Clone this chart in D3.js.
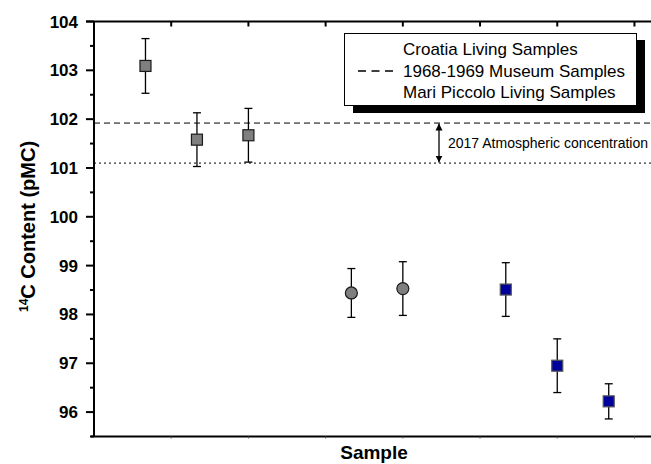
<!DOCTYPE html>
<html>
<head>
<meta charset="utf-8">
<script src="https://cdn.jsdelivr.net/npm/d3@7"></script>
<style>
  body { margin: 0; background: #fff; }
  svg { font-family: "Liberation Sans", Arial, sans-serif; }
</style>
</head>
<body>
<svg id="chart" width="651" height="464"></svg>
<script>
// Data
const croatiaX = [1, 2, 3];
const croatiaY = [103.09, 101.58, 101.67];
const croatiaErr = [0.56, 0.55, 0.55];

const museumX = [5, 6];
const museumY = [98.44, 98.53];
const museumErr = [0.5, 0.55];

const mariX = [8, 9, 10];
const mariY = [98.51, 96.95, 96.22];
const mariErr = [0.55, 0.55, 0.36];

const atmUpper = 101.92;
const atmLower = 101.10;

const yTicks = [96, 97, 98, 99, 100, 101, 102, 103, 104];
const yMinor = [95.5, 96.5, 97.5, 98.5, 99.5, 100.5, 101.5, 102.5, 103.5];
const xTicks = [1.5, 3, 4.5, 6, 7.5, 9, 10.5];

const legendLabels = ["Croatia Living Samples", "1968-1969 Museum Samples", "Mari Piccolo Living Samples"];

// Layout (plot box runs a little past the right edge of the picture)
const svg = d3.select("#chart");
const pLeft = 94, pRight = 660.2, pTop = 21.5, pBottom = 436.5;

const x = d3.scaleLinear().domain([0, 11]).range([pLeft, pRight]);
const y = d3.scaleLinear().domain([95.5, 104]).range([pBottom, pTop]);

// Reference lines (2017 atmosphere)
svg.append("line")
  .attr("x1", pLeft).attr("x2", pRight)
  .attr("y1", y(atmUpper)).attr("y2", y(atmUpper))
  .attr("stroke", "#000").attr("stroke-width", 1)
  .attr("stroke-dasharray", "6,4");
svg.append("line")
  .attr("x1", pLeft).attr("x2", pRight)
  .attr("y1", y(atmLower)).attr("y2", y(atmLower))
  .attr("stroke", "#000").attr("stroke-width", 1)
  .attr("stroke-dasharray", "2,3");

// Double arrow + annotation
const defs = svg.append("defs");
defs.append("marker")
  .attr("id", "ah").attr("viewBox", "0 0 10 10")
  .attr("refX", 10).attr("refY", 5)
  .attr("markerWidth", 7).attr("markerHeight", 10)
  .attr("markerUnits", "userSpaceOnUse")
  .attr("orient", "auto-start-reverse")
  .append("path").attr("d", "M0,0 L10,5 L0,10 Z").attr("fill", "#000");

const arrowX = 439;
svg.append("line")
  .attr("x1", arrowX).attr("x2", arrowX)
  .attr("y1", y(atmUpper) + 0.5).attr("y2", y(atmLower) - 0.5)
  .attr("stroke", "#000").attr("stroke-width", 1.3)
  .attr("marker-start", "url(#ah)").attr("marker-end", "url(#ah)");

svg.append("text")
  .attr("x", 448).attr("y", (y(atmUpper) + y(atmLower)) / 2 + 5)
  .attr("font-size", 14)
  .text("2017 Atmospheric concentration");

// Axes frame
const frame = svg.append("g").attr("stroke", "#000").attr("stroke-width", 2);
frame.append("line").attr("x1", pLeft - 8).attr("x2", pRight + 1).attr("y1", pTop).attr("y2", pTop);
frame.append("line").attr("x1", pLeft - 3).attr("x2", pRight + 1).attr("y1", pBottom).attr("y2", pBottom);
frame.append("line").attr("x1", pLeft).attr("x2", pLeft).attr("y1", pTop).attr("y2", pBottom);
frame.append("line").attr("x1", pRight).attr("x2", pRight).attr("y1", pTop).attr("y2", pBottom);

// Y axis ticks and labels
const yAxis = svg.append("g");
yAxis.selectAll(".maj").data(yTicks).enter().append("line")
  .attr("x1", pLeft - 8).attr("x2", pLeft)
  .attr("y1", d => y(d)).attr("y2", d => y(d))
  .attr("stroke", "#000").attr("stroke-width", 2);
yAxis.selectAll(".min").data(yMinor).enter().append("line")
  .attr("x1", pLeft - 4).attr("x2", pLeft)
  .attr("y1", d => y(d)).attr("y2", d => y(d))
  .attr("stroke", "#000").attr("stroke-width", 2);
yAxis.selectAll("text").data(yTicks).enter().append("text")
  .attr("x", 78).attr("y", d => y(d) + 6)
  .attr("text-anchor", "end")
  .attr("font-size", 17).attr("font-weight", "bold")
  .text(d => d);

// X ticks (top pointing in, bottom tiny)
svg.append("g").selectAll("line").data(xTicks).enter().append("line")
  .attr("x1", d => x(d)).attr("x2", d => x(d))
  .attr("y1", pTop).attr("y2", pTop + 5)
  .attr("stroke", "#000").attr("stroke-width", 2);
svg.append("g").selectAll("line").data(xTicks).enter().append("line")
  .attr("x1", d => x(d)).attr("x2", d => x(d))
  .attr("y1", pBottom).attr("y2", pBottom + 2)
  .attr("stroke", "#555").attr("stroke-width", 1);

// Axis titles
svg.append("text")
  .attr("x", 374).attr("y", 459)
  .attr("text-anchor", "middle")
  .attr("font-size", 19).attr("font-weight", "bold")
  .text("Sample");

const yTitle = svg.append("text")
  .attr("transform", "translate(35,226.5) rotate(-90)")
  .attr("text-anchor", "middle")
  .attr("font-size", 20).attr("font-weight", "bold");
yTitle.append("tspan").attr("font-size", 12).attr("dy", -7).text("14");
yTitle.append("tspan").attr("dy", 7).text("C Content (pMC)");

// Error bars
function errorBars(xs, ys, es) {
  const g = svg.append("g").attr("stroke", "#000").attr("stroke-width", 1.3);
  xs.forEach((xv, i) => {
    const cx = x(xv), y1 = y(ys[i] + es[i]), y2 = y(ys[i] - es[i]);
    g.append("line").attr("x1", cx).attr("x2", cx).attr("y1", y1).attr("y2", y2);
    g.append("line").attr("x1", cx - 4).attr("x2", cx + 4).attr("y1", y1).attr("y2", y1);
    g.append("line").attr("x1", cx - 4).attr("x2", cx + 4).attr("y1", y2).attr("y2", y2);
  });
}
errorBars(croatiaX, croatiaY, croatiaErr);
errorBars(museumX, museumY, museumErr);
errorBars(mariX, mariY, mariErr);

// Markers
const sq = 11;
svg.append("g").selectAll("rect").data(croatiaX).enter().append("rect")
  .attr("x", d => x(d) - sq / 2).attr("y", (d, i) => y(croatiaY[i]) - sq / 2)
  .attr("width", sq).attr("height", sq)
  .attr("fill", "#7f7f7f").attr("stroke", "#1a1a1a").attr("stroke-width", 1.2);

svg.append("g").selectAll("circle").data(museumX).enter().append("circle")
  .attr("cx", d => x(d)).attr("cy", (d, i) => y(museumY[i]))
  .attr("r", 6)
  .attr("fill", "#7f7f7f").attr("stroke", "#1a1a1a").attr("stroke-width", 1.2);

svg.append("g").selectAll("rect").data(mariX).enter().append("rect")
  .attr("x", d => x(d) - sq / 2).attr("y", (d, i) => y(mariY[i]) - sq / 2)
  .attr("width", sq).attr("height", sq)
  .attr("fill", "#00009c").attr("stroke", "#555").attr("stroke-width", 1.2);

// Legend
const lg = svg.append("g");
lg.append("rect").attr("x", 353).attr("y", 40).attr("width", 292).attr("height", 73).attr("fill", "#000");
lg.append("rect").attr("x", 344.5).attr("y", 33.5).attr("width", 292).attr("height", 72)
  .attr("fill", "#fff").attr("stroke", "#000").attr("stroke-width", 1);
lg.selectAll("text").data(legendLabels).enter().append("text")
  .attr("x", 403).attr("y", (d, i) => 55 + i * 21.7)
  .attr("font-size", 17)
  .text(d => d);
lg.append("line")
  .attr("x1", 358).attr("x2", 397).attr("y1", 71).attr("y2", 71)
  .attr("stroke", "#000").attr("stroke-width", 1.3)
  .attr("stroke-dasharray", "8,5.5");
</script>
</body>
</html>
